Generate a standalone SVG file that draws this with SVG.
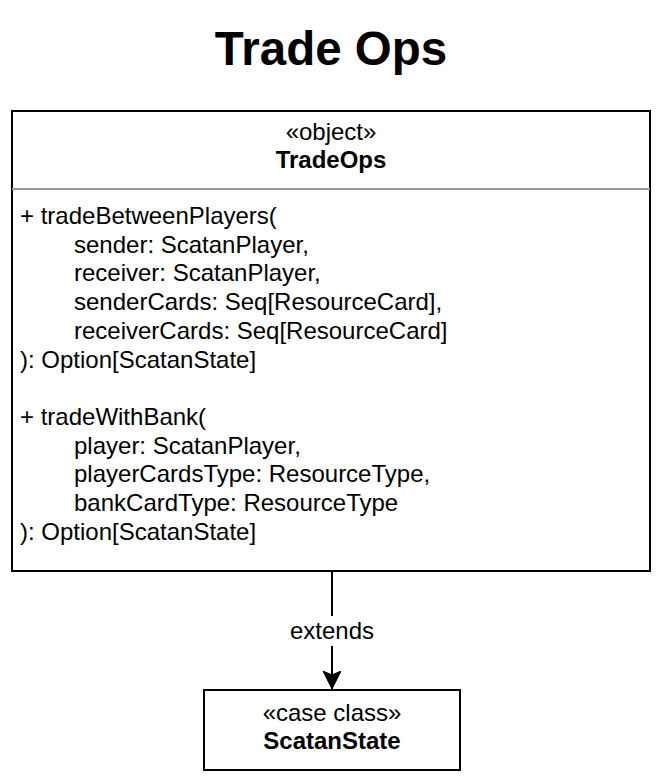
<svg xmlns="http://www.w3.org/2000/svg" width="662" height="782" viewBox="0 0 662 782">
<style>
text{font-family:"Liberation Sans",Arial,Helvetica,sans-serif;fill:#000}
.t{font-size:24px}
.c{text-anchor:middle}
.b{font-weight:bold}
.box{fill:#fff;stroke:#000;stroke-width:2}
</style>
<defs>
<marker id="arr" markerUnits="userSpaceOnUse" markerWidth="20" markerHeight="20" refX="18" refY="9" orient="auto">
<path d="M18,9 L0,0 L4,9 L0,18 Z" fill="#000" stroke="#000" stroke-width="1"/>
</marker>
</defs>
<rect width="662" height="782" fill="#fff"/>
<text x="331" y="65" class="c b" style="font-size:47.5px">Trade Ops</text>
<g id="connectors">
<line x1="332" y1="571" x2="332" y2="689" stroke="#000" stroke-width="2" marker-end="url(#arr)"/>
<rect x="286" y="616" width="92" height="30" fill="#fff"/>
<text x="332" y="639" class="t c">extends</text>
</g>
<g id="TradeOps">
<rect x="12" y="111" width="638" height="460" class="box"/>
<line x1="12" y1="189" x2="650" y2="189" stroke="#999" stroke-width="2"/>
<text x="331" y="140" class="t c">«object»</text>
<text x="331" y="168" class="t c b">TradeOps</text>
<text class="t" x="20" y="224">+ tradeBetweenPlayers(</text>
<text class="t" x="74" y="252.7">sender: ScatanPlayer,</text>
<text class="t" x="74" y="281.4">receiver: ScatanPlayer,</text>
<text class="t" x="74" y="310.1">senderCards: Seq[ResourceCard],</text>
<text class="t" x="74" y="338.8">receiverCards: Seq[ResourceCard]</text>
<text class="t" x="20" y="367.5">): Option[ScatanState]</text>
<text class="t" x="20" y="424.9">+ tradeWithBank(</text>
<text class="t" x="74" y="453.6">player: ScatanPlayer,</text>
<text class="t" x="74" y="482.3">playerCardsType: ResourceType,</text>
<text class="t" x="74" y="511">bankCardType: ResourceType</text>
<text class="t" x="20" y="539.7">): Option[ScatanState]</text>
</g>
<g id="ScatanState">
<rect x="204" y="690" width="256" height="80" class="box"/>
<text x="332" y="721" class="t c">«case class»</text>
<text x="332" y="749" class="t c b">ScatanState</text>
</g>
</svg>
